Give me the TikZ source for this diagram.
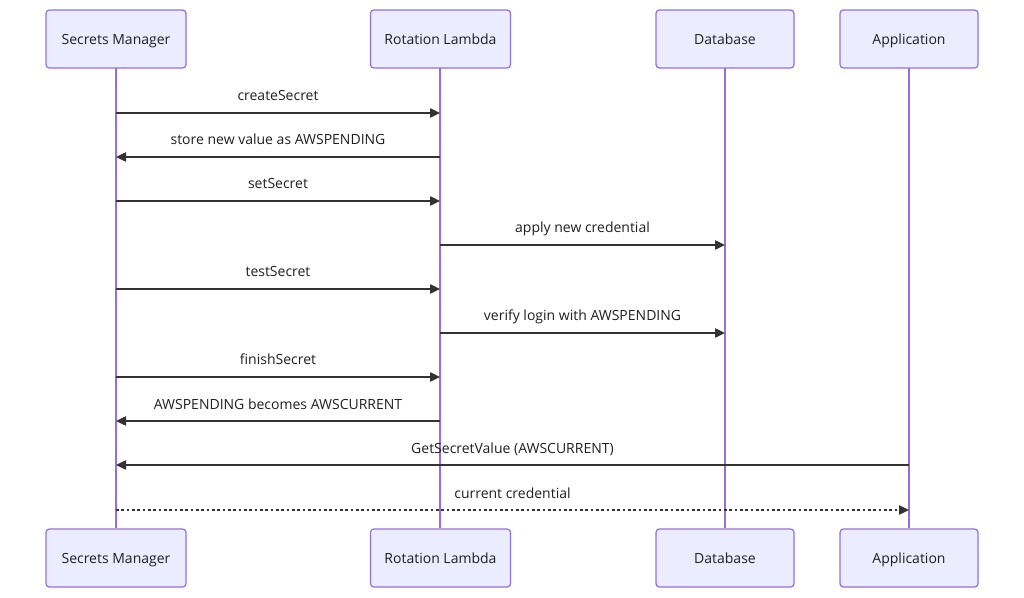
\documentclass[tikz,border=0pt]{standalone}
\usepackage{fontspec}
\setmainfont{Open Sans}
\usetikzlibrary{arrows.meta}
\definecolor{boxfill}{HTML}{ECECFF}
\definecolor{boxline}{HTML}{9370DB}
\definecolor{lifeline}{HTML}{9370DB}
\definecolor{msgline}{HTML}{333333}
\tikzset{
  actor/.style={draw=boxline, fill=boxfill, rounded corners=2.5pt, line width=0.9pt,
    minimum width=104pt, minimum height=43.5pt, inner sep=0pt, text height=10.6pt, text depth=2.2pt,
    font=\fontsize{10.5pt}{12pt}\selectfont, text=black!88},
  life/.style={draw=lifeline, line width=1.4pt},
  msg/.style={draw=msgline, line width=1pt, -{Triangle[length=7.5pt,width=7pt]}},
  reply/.style={msg, dash pattern=on 2pt off 2pt},
  lbl/.style={font=\fontsize{10.5pt}{12pt}\selectfont, text=black!88, inner sep=0pt,
    text height=7.6pt, text depth=2.2pt}
}
\begin{document}
\begin{tikzpicture}[x=0.75pt,y=-0.75pt]
\useasboundingbox (0,0) rectangle (1024,598);
% lifelines
\foreach \n/\x in {sm/116,rl/440,db/725,ap/909}{
  \coordinate (\n top) at (\x,68);
  \coordinate (\n bot) at (\x,528);
}
\draw[life] (smtop) -- (smbot);
\draw[life] (rltop) -- (rlbot);
\draw[life] (dbtop) -- (dbbot);
\draw[life] (aptop) -- (apbot);
% actors
\node[actor, minimum width=105pt] (sm1) at (116,39) {Secrets Manager};
\node[actor, minimum width=105pt] (rl1) at (440.5,39) {Rotation Lambda};
\node[actor, minimum width=103.5pt] (db1) at (725,39) {Database};
\node[actor, minimum width=103.5pt] (ap1) at (909,39) {Application};
\node[actor, minimum width=105pt] (sm2) at (116,558) {Secrets Manager};
\node[actor, minimum width=105pt] (rl2) at (440.5,558) {Rotation Lambda};
\node[actor, minimum width=103.5pt] (db2) at (725,558) {Database};
\node[actor, minimum width=103.5pt] (ap2) at (909,558) {Application};
% message anchor points
\foreach \i/\y in {1/113,2/157,3/201,4/245,5/289,6/333,7/377,8/421,9/465,10/510}{
  \coordinate (sm\i) at (116,\y);
  \coordinate (rl\i) at (440,\y);
  \coordinate (db\i) at (725,\y);
  \coordinate (ap\i) at (909,\y);
}
\draw[msg] (sm1) -- (rl1) node[lbl, midway, yshift=11.7pt] {createSecret};
\draw[msg] (rl2) -- (sm2) node[lbl, midway, yshift=11.7pt] {store new value as AWSPENDING};
\draw[msg] (sm3) -- (rl3) node[lbl, midway, yshift=11.7pt] {setSecret};
\draw[msg] (rl4) -- (db4) node[lbl, midway, yshift=11.7pt] {apply new credential};
\draw[msg] (sm5) -- (rl5) node[lbl, midway, yshift=11.7pt] {testSecret};
\draw[msg] (rl6) -- (db6) node[lbl, midway, yshift=11.7pt] {verify login with AWSPENDING};
\draw[msg] (sm7) -- (rl7) node[lbl, midway, yshift=11.7pt] {finishSecret};
\draw[msg] (rl8) -- (sm8) node[lbl, midway, yshift=11.7pt] {AWSPENDING becomes AWSCURRENT};
\draw[msg] (ap9) -- (sm9) node[lbl, midway, yshift=11.7pt] {GetSecretValue (AWSCURRENT)};
\draw[reply] (sm10) -- (ap10) node[lbl, midway, yshift=11.7pt] {current credential};
\end{tikzpicture}
\end{document}
